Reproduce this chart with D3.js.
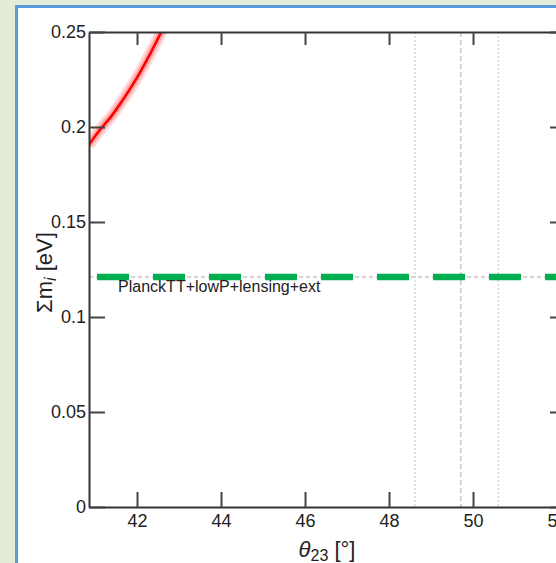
<!DOCTYPE html>
<html>
<head>
<meta charset="utf-8">
<script src="https://cdn.jsdelivr.net/npm/d3@7"></script>
<style>
body { margin: 0; background: #e2ecd9; }
svg { display: block; font-family: "Liberation Sans", Arial, Helvetica, sans-serif; }
</style>
</head>
<body>
<div id="chart"></div>
<script>
var svgWidth = 556;
var svgHeight = 563;

var leftEdge = 89;
var rightEdge = 565;
var topEdge = 32;
var bottomEdge = 507;

// red curve, sum of masses vs theta23
var curveTheta = [40.85, 41.1, 41.4, 41.7, 42.0, 42.3, 42.6, 42.9];
var curveSum = [0.1905, 0.198, 0.206, 0.2155, 0.226, 0.238, 0.251, 0.265];

var planckBound = 0.121;
var planckLabel = 'PlanckTT+lowP+lensing+ext';

// best fit and range of theta23
var thetaLines = [48.62, 49.71, 50.6];

var xTicks = [42, 44, 46, 48, 50, 52];
var yTicks = [0, 0.05, 0.1, 0.15, 0.2, 0.25];
var yTickLabels = ['0', '0.05', '0.1', '0.15', '0.2', '0.25'];

var svg = d3.select('#chart')
    .append('svg')
    .attr('width', svgWidth)
    .attr('height', svgHeight);

svg.append('rect')
    .attr('width', svgWidth)
    .attr('height', svgHeight)
    .attr('fill', '#e2ecd9');

svg.append('rect')
    .attr('x', 16.5)
    .attr('y', 6.5)
    .attr('width', svgWidth + 10)
    .attr('height', svgHeight + 10)
    .attr('fill', 'white')
    .attr('stroke', '#5b9bd8')
    .attr('stroke-width', 3);

var xScale = d3.scaleLinear()
    .domain([40.857, 52.19])
    .range([leftEdge, rightEdge]);
var yScale = d3.scaleLinear()
    .domain([0, 0.25])
    .range([bottomEdge, topEdge]);

svg.append('clipPath')
    .attr('id', 'plot-clip')
    .append('rect')
    .attr('x', leftEdge)
    .attr('y', topEdge)
    .attr('width', rightEdge - leftEdge)
    .attr('height', bottomEdge - topEdge);

var plot = svg.append('g').attr('clip-path', 'url(#plot-clip)');

// vertical theta23 lines
plot.selectAll('.vline')
    .data(thetaLines)
    .enter()
    .append('line')
    .attr('class', 'vline')
    .attr('x1', d => xScale(d))
    .attr('x2', d => xScale(d))
    .attr('y1', topEdge)
    .attr('y2', bottomEdge)
    .attr('stroke', (d, i) => i === 1 ? '#bdbdbd' : '#d0d0d0')
    .attr('stroke-width', 1.3)
    .attr('stroke-dasharray', (d, i) => i === 1 ? '5,3' : '2,2');

// planck bound
plot.append('line')
    .attr('x1', leftEdge)
    .attr('x2', rightEdge)
    .attr('y1', yScale(planckBound))
    .attr('y2', yScale(planckBound))
    .attr('stroke', '#c8c8c8')
    .attr('stroke-width', 1.5)
    .attr('stroke-dasharray', '4,3');

plot.append('line')
    .attr('x1', leftEdge)
    .attr('x2', rightEdge)
    .attr('y1', yScale(planckBound))
    .attr('y2', yScale(planckBound))
    .attr('stroke', '#00b050')
    .attr('stroke-width', 6.5)
    .attr('stroke-dasharray', '32,24')
    .attr('stroke-dashoffset', 48);

svg.append('text')
    .attr('x', xScale(41.55))
    .attr('y', yScale(planckBound) + 15)
    .attr('font-size', 16)
    .attr('fill', '#222')
    .text(planckLabel);

// red curve with band
var curvePoints = curveTheta.map((t, i) => [t, curveSum[i]]);
var line = d3.line()
    .x(d => xScale(d[0]))
    .y(d => yScale(d[1]))
    .curve(d3.curveMonotoneX);

plot.append('path')
    .attr('d', line(curvePoints))
    .attr('fill', 'none')
    .attr('stroke', '#ff0000')
    .attr('stroke-opacity', 0.15)
    .attr('stroke-width', 12);

plot.append('path')
    .attr('d', line(curvePoints))
    .attr('fill', 'none')
    .attr('stroke', '#ff0000')
    .attr('stroke-opacity', 0.22)
    .attr('stroke-width', 7);

plot.append('path')
    .attr('d', line(curvePoints))
    .attr('fill', 'none')
    .attr('stroke', '#ff0000')
    .attr('stroke-width', 2.6);

// axes
var xAxis = d3.axisBottom(xScale)
    .tickValues(xTicks)
    .tickSizeInner(-15)
    .tickSizeOuter(0)
    .tickPadding(7);
var topAxis = d3.axisTop(xScale)
    .tickValues(xTicks)
    .tickSizeInner(-13)
    .tickSizeOuter(0)
    .tickFormat('');
var yAxis = d3.axisLeft(yScale)
    .tickValues(yTicks)
    .tickSizeInner(-16)
    .tickSizeOuter(0)
    .tickPadding(3)
    .tickFormat((d, i) => yTickLabels[i]);
var rightAxis = d3.axisRight(yScale)
    .tickValues(yTicks)
    .tickSizeInner(-15)
    .tickSizeOuter(0)
    .tickFormat('');

var axes = [
    svg.append('g').attr('transform', `translate(0, ${bottomEdge})`).call(xAxis),
    svg.append('g').attr('transform', `translate(0, ${topEdge})`).call(topAxis),
    svg.append('g').attr('transform', `translate(${leftEdge}, 0)`).call(yAxis),
    svg.append('g').attr('transform', `translate(${rightEdge}, 0)`).call(rightAxis)
];

axes.forEach(function(a) {
    a.select('.domain').attr('stroke', '#333').attr('stroke-width', 2);
    a.selectAll('.tick line').attr('stroke', '#444').attr('stroke-width', 2);
    a.selectAll('.tick text')
        .attr('font-size', 18)
        .attr('font-family', '"Liberation Sans", Arial, sans-serif')
        .attr('fill', '#222');
});

// axis titles
var xTitle = svg.append('text')
    .attr('x', (leftEdge + rightEdge) / 2)
    .attr('y', 557)
    .attr('text-anchor', 'middle')
    .attr('font-size', 22)
    .attr('fill', '#222');
xTitle.append('tspan').attr('font-style', 'italic').text('θ');
xTitle.append('tspan').attr('font-size', 16).attr('dy', 4).text('23');
xTitle.append('tspan').attr('dy', -4).text(' [°]');

var yTitle = svg.append('text')
    .attr('transform', `translate(52, ${(topEdge + bottomEdge) / 2 + 3}) rotate(-90)`)
    .attr('text-anchor', 'middle')
    .attr('font-size', 22)
    .attr('fill', '#222');
yTitle.append('tspan').text('Σm');
yTitle.append('tspan').attr('font-size', 16).attr('font-style', 'italic').attr('dy', 4).text('i');
yTitle.append('tspan').attr('dy', -4).text(' [eV]');
</script>
</body>
</html>
